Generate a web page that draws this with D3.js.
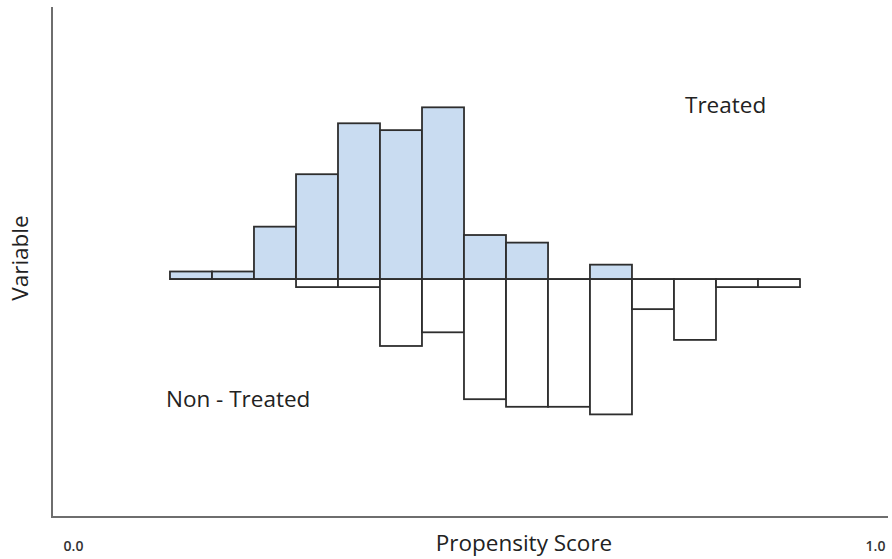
<!DOCTYPE html>
<html>
<head>
<meta charset="utf-8">
<script src="https://cdn.jsdelivr.net/npm/d3@7"></script>
<style>
  html, body { margin: 0; padding: 0; background: #fff; }
  svg { display: block; }
</style>
</head>
<body>
<svg id="chart" width="892" height="559"></svg>
<script>
// Propensity score bins (15 equal-width bins on a 0..1 axis)
const binStarts = [0.1411, 0.1914, 0.2416, 0.2919, 0.3421, 0.3923, 0.4426, 0.4928, 0.5431, 0.5933, 0.6435, 0.6938, 0.7440, 0.7943, 0.8445];
const binWidth = 0.05024;
// Treated frequencies (drawn upward)
const treated = [1.0, 1.0, 6.9, 13.8, 20.5, 19.6, 22.6, 5.8, 4.8, 0, 1.9, 0, 0, 0, 0];
// Non-treated frequencies (drawn downward)
const nonTreated = [0, 0, 0, 1.05, 1.05, 8.8, 7.0, 15.8, 16.8, 16.8, 17.8, 3.95, 8.0, 1.05, 1.05];
const xTickLabels = ["0.0", "1.0"];

const svg = d3.select("#chart");
const plotLeft = 52, plotRight = 888, axisY = 517, axisTop = 7;

const x = d3.scaleLinear().domain([0, 1]).range([plotLeft, plotRight]);
const y = d3.scaleLinear().domain([-31.3, 35.8]).range([axisY, axisTop]);

const fill = "#c9dcf1", stroke = "#2e2e2e", sw = 1.8;

// non-treated bars (downward)
svg.append("g").selectAll("rect").data(nonTreated.map((v, i) => ({v, i})).filter(d => d.v > 0))
  .join("rect")
  .attr("x", d => x(binStarts[d.i]))
  .attr("width", d => x(binStarts[d.i] + binWidth) - x(binStarts[d.i]))
  .attr("y", y(0))
  .attr("height", d => y(-d.v) - y(0))
  .attr("fill", "#fff").attr("stroke", stroke).attr("stroke-width", sw);

// treated bars (upward)
svg.append("g").selectAll("rect").data(treated.map((v, i) => ({v, i})).filter(d => d.v > 0))
  .join("rect")
  .attr("x", d => x(binStarts[d.i]))
  .attr("width", d => x(binStarts[d.i] + binWidth) - x(binStarts[d.i]))
  .attr("y", d => y(d.v))
  .attr("height", d => y(0) - y(d.v))
  .attr("fill", fill).attr("stroke", stroke).attr("stroke-width", sw);

// baseline across all bins
svg.append("line")
  .attr("x1", x(binStarts[0])).attr("x2", x(binStarts[binStarts.length - 1] + binWidth))
  .attr("y1", y(0)).attr("y2", y(0))
  .attr("stroke", stroke).attr("stroke-width", sw);

// axes
svg.append("path")
  .attr("d", `M${plotLeft},${axisTop}V${axisY}H${plotRight}`)
  .attr("fill", "none").attr("stroke", "#6e6e6e").attr("stroke-width", 2);

// tick labels
svg.append("g").selectAll("text").data(xTickLabels).join("text")
  .attr("x", (d, i) => i === 0 ? 73.5 : 875.5)
  .attr("y", 551)
  .attr("text-anchor", "middle")
  .attr("font-family", "'Open Sans', sans-serif")
  .attr("font-size", 14).attr("font-weight", 600).attr("fill", "#333")
  .text(d => d);

const font = "'Open Sans', sans-serif";
const fs = 22.5;
svg.append("text").attr("x", 524).attr("y", 551).attr("text-anchor", "middle")
  .attr("font-family", font).attr("font-size", fs).attr("fill", "#222").text("Propensity Score");
svg.append("text").attr("transform", "translate(28,258) rotate(-90)").attr("text-anchor", "middle")
  .attr("font-family", font).attr("font-size", fs).attr("fill", "#222").text("Variable");
svg.append("text").attr("x", 685).attr("y", 113)
  .attr("font-family", font).attr("font-size", fs).attr("fill", "#222").text("Treated");
svg.append("text").attr("x", 166).attr("y", 407)
  .attr("font-family", font).attr("font-size", fs).attr("fill", "#222").text("Non - Treated");
</script>
</body>
</html>
